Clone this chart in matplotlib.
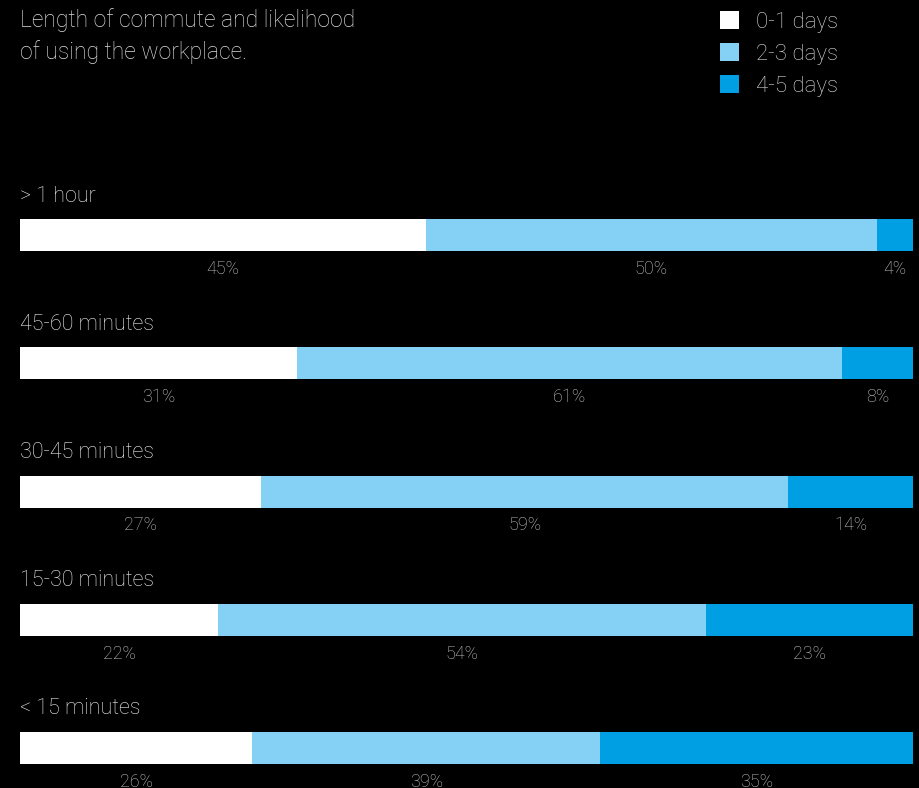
import numpy as np
import matplotlib.pyplot as plt
from matplotlib.patches import Patch

categories = ["> 1 hour", "45-60 minutes", "30-45 minutes", "15-30 minutes", "< 15 minutes"]
series = ["0-1 days", "2-3 days", "4-5 days"]
low = [45, 31, 27, 22, 26]
mid = [50, 61, 59, 54, 39]
high = [4, 8, 14, 23, 35]
colors = ["#ffffff", "#85d0f5", "#009fe3"]
title_lines = ["Length of commute and likelihood", "of using the workplace."]

plt.rcParams['font.family'] = ['Roboto', 'DejaVu Sans']

W, H = 919, 788
fig = plt.figure(figsize=(W / 100, H / 100), dpi=100, facecolor="black")
# axes spans the bar area horizontally, full height vertically
ax = fig.add_axes([20 / W, 0, 893 / W, 1])
ax.set_facecolor("black")

vals = np.array([low, mid, high], dtype=float)
shares = vals / vals.sum(axis=0)   # each bar fills the full width
y = np.arange(len(categories))
step = 128.25
first = 235
ax.set_ylim((H - first) / step, -first / step)
ax.set_xlim(0, 1)

left = np.zeros(len(categories))
for k in range(3):
    ax.barh(y, shares[k], left=left, height=32 / step, color=colors[k], label=series[k])
    for i in range(len(categories)):
        ax.text(left[i] + shares[k][i] / 2, y[i] + 34 / step, f"{vals[k][i]:.0f}%",
                ha="center", va="center", color="#c8c8c8", fontsize=13, fontweight="light")
    left += shares[k]

for i, c in enumerate(categories):
    ax.text(0, y[i] - 39 / step, c, ha="left", va="center", color="#f0f0f0",
            fontsize=15.5, fontweight="light")

ax.axis("off")

for j, line in enumerate(title_lines):
    fig.text(20 / W, 1 - (20 + 32 * j) / H, line, ha="left", va="center",
             color="#dcdcdc", fontsize=16.5, fontweight="light")

handles = [Patch(facecolor=colors[k], edgecolor="none", label=series[k]) for k in range(3)]
leg = fig.legend(handles=handles, loc="upper left", bbox_to_anchor=(700 / W, 1 + 9 / H),
                 frameon=False, handlelength=0.85, handleheight=0.85, handletextpad=0.75,
                 labelspacing=0.48, fontsize=16)
for t in leg.get_texts():
    t.set_color("#dcdcdc")
    t.set_fontweight("light")

fig.savefig("out.png", dpi=100, facecolor="black")
